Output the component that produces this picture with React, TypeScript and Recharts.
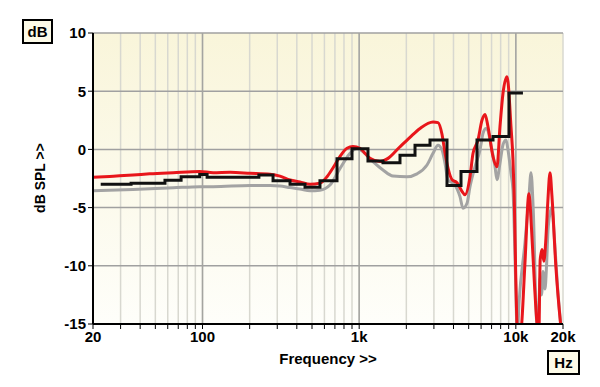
import { LineChart, Line, XAxis, YAxis, CartesianGrid, ReferenceLine } from 'recharts';

// frequency grid (Hz) and level ticks (dB)
const freqTicks = [
  20, 30, 40, 50, 60, 70, 80, 90,
  100, 200, 300, 400, 500, 600, 700, 800, 900,
  1000, 2000, 3000, 4000, 5000, 6000, 7000, 8000, 9000,
  10000, 20000,
];
const majorFreqs = [100, 1000, 10000];
const labelFreqs = [20, 100, 1000, 10000, 20000];
const dbTicks = [-15, -10, -5, 0, 5, 10];

// [Hz, dB]
const redCurve = [
  [20, -2.4], [27, -2.3], [36, -2.2], [46, -2.1], [65, -2.0], [96, -1.9], [117, -2.0],
  [150, -1.97], [201, -2.05], [270, -2.14], [312, -2.3], [362, -2.63], [419, -2.8],
  [486, -3.0], [562, -2.9], [623, -2.35], [680, -1.6], [755, -0.6], [836, 0.1], [913, 0.25],
  [1012, 0.1], [1100, -0.4], [1172, -0.77], [1358, -1.05], [1528, -0.77], [1822, 0.23],
  [2110, 1.04], [2446, 1.8], [2960, 2.35], [3186, 2.3], [3378, 1.3], [3532, -0.3],
  [3690, -1.6], [3912, -2.6], [4212, -2.86], [4532, -3.6], [4736, -3.9], [5098, -2.35],
  [5328, -0.36], [5734, 0.8], [6080, 2.5], [6356, 3.0], [6642, 1.95], [7150, -0.63],
  [7580, -1.5], [7920, 1.95], [8280, 4.82], [8780, 6.25], [8912, 5.8], [9312, 1.95],
  [9590, -0.9], [9732, -3.5], [10170, -15], [10500, -17], [10900, -15], [11440, -9.7],
  [12130, -3.8], [12600, -6.9], [13200, -12], [13650, -15], [14000, -16.5], [14300, -9.5],
  [14700, -8.6], [15100, -9.6], [15500, -8.0], [16000, -4.5], [16520, -2.0], [17000, -4.0],
  [18000, -10], [19300, -15], [20000, -17],
];

const grayCurve = [
  [20, -3.55], [36, -3.45], [65, -3.3], [96, -3.2], [117, -3.2], [201, -3.1], [270, -3.1],
  [312, -3.14], [362, -3.28], [419, -3.4], [486, -3.55], [562, -3.5], [651, -3.06],
  [755, -1.63], [874, -0.34], [969, 0.1], [1058, -0.2], [1225, -1.05], [1419, -1.77],
  [1644, -2.29], [2019, -2.35], [2339, -2.1], [2710, -1.34], [2960, -0.34], [3186, 0.35],
  [3378, -0.05], [3532, -1.2], [3690, -2.63], [3912, -2.85], [4090, -3.06], [4400, -4.06],
  [4600, -5.06], [4878, -4.63], [5098, -3.2], [5488, -1.48], [5906, -0.05], [6172, 1.38],
  [6450, 1.8], [6642, 1.6], [6840, 0.8], [7360, -1.48], [7580, -2.6], [7920, -1.2],
  [8280, 0.4], [8654, 0.8], [8912, -0.05], [9312, -2.05], [9590, -3.5], [10000, -12],
  [10200, -16], [10500, -13], [11440, -8], [12130, -4], [12500, -2.0], [12900, -5],
  [13650, -15], [14000, -14], [14260, -11], [14600, -12.5], [14900, -10.5], [15350, -12],
  [15700, -10], [16040, -7], [16520, -5.5], [17010, -5], [17500, -7], [18500, -12],
  [19500, -15.5], [20000, -17],
];

// step line: band start frequency, level
const blackSteps = [
  [22.4, -3.0], [35, -2.9], [57.6, -2.65], [73, -2.35], [96, -2.15], [107, -2.4],
  [229, -2.2], [282, -2.7], [362, -3.0], [451, -3.25], [562, -2.7], [722, -0.8],
  [900, 0.05], [1138, -1.0], [1419, -1.15], [1822, -0.5], [2272, 0.35], [2832, 0.8],
  [3636, -3.1], [4467, -1.9], [5650, 0.8], [7150, 1.1], [9040, 4.85], [11100, 4.85],
];

const toRows = (pts: number[][]) => pts.map(([f, v]) => ({ f, v }));

const fmtFreq = (f: number) => {
  if (!labelFreqs.includes(f)) return '';
  return f >= 1000 ? `${f / 1000}k` : `${f}`;
};

const font = 'Arial, "Liberation Sans", sans-serif';
const tickStyle = { fill: '#000', fontSize: 15, fontWeight: 'bold', fontFamily: font };

const boxStyle: React.CSSProperties = {
  position: 'absolute',
  border: '2px solid #000',
  background: '#fdfbe8',
  fontWeight: 'bold',
  fontSize: 15,
  textAlign: 'center',
  boxSizing: 'border-box',
};

export default function App() {
  return (
    <div style={{ position: 'fixed', left: 0, top: 0, width: 600, height: 387, background: '#fff', fontFamily: font }}>
      <LineChart width={600} height={387} margin={{ top: 33, right: 37, left: 0, bottom: 0 }}>
        <defs>
          <linearGradient id="plotBg" x1="0" y1="0" x2="0" y2="1">
            <stop offset="0%" stopColor="#f9f5da" />
            <stop offset="100%" stopColor="#fefefa" />
          </linearGradient>
        </defs>
        <CartesianGrid fill="url(#plotBg)" fillOpacity={1} stroke="#d8d8d0" strokeWidth={1.5} horizontal={false} />
        <CartesianGrid stroke="#a0a0a0" strokeWidth={1.5} vertical={false} />
        {majorFreqs.map((f) => (
          <ReferenceLine key={f} x={f} stroke="#a4a4a0" strokeWidth={1.5} />
        ))}
        <XAxis
          dataKey="f"
          type="number"
          scale="log"
          domain={[20, 20000]}
          ticks={freqTicks}
          interval={0}
          tickFormatter={fmtFreq}
          allowDataOverflow
          height={63}
          tickSize={5}
          tick={tickStyle}
          axisLine={{ stroke: '#000', strokeWidth: 2 }}
          tickLine={{ stroke: '#000' }}
        />
        <XAxis
          xAxisId="top"
          orientation="top"
          type="number"
          scale="log"
          domain={[20, 20000]}
          allowDataOverflow
          height={0}
          tick={false}
          tickLine={false}
          axisLine={{ stroke: '#000', strokeWidth: 2 }}
        />
        <YAxis
          type="number"
          domain={[-15, 10]}
          ticks={dbTicks}
          interval={0}
          allowDataOverflow
          width={93}
          tickSize={5}
          tick={tickStyle}
          axisLine={{ stroke: '#000', strokeWidth: 2 }}
          tickLine={{ stroke: '#000' }}
        />
        <YAxis
          yAxisId="right"
          orientation="right"
          type="number"
          domain={[-15, 10]}
          allowDataOverflow
          width={0}
          tick={false}
          tickLine={false}
          axisLine={{ stroke: '#000', strokeWidth: 2 }}
        />
        <Line data={toRows(grayCurve)} dataKey="v" type="monotone" stroke="#a3a3a3" strokeWidth={3} dot={false} isAnimationActive={false} />
        <Line data={toRows(redCurve)} dataKey="v" type="monotone" stroke="#e8161b" strokeWidth={3} dot={false} isAnimationActive={false} />
        <Line data={toRows(blackSteps)} dataKey="v" type="stepAfter" stroke="#111" strokeWidth={3} dot={false} isAnimationActive={false} />
      </LineChart>

      <div style={{ ...boxStyle, left: 22, top: 19, width: 31, height: 25, lineHeight: '21px' }}>dB</div>
      <div style={{ ...boxStyle, left: 547, top: 350, width: 33, height: 25, lineHeight: '21px' }}>Hz</div>
      <div
        style={{
          position: 'absolute',
          left: 40,
          top: 178,
          transform: 'translate(-50%, -50%) rotate(-90deg)',
          fontWeight: 'bold',
          fontSize: 14,
          whiteSpace: 'nowrap',
        }}
      >
        dB SPL &gt;&gt;
      </div>
      <div
        style={{
          position: 'absolute',
          left: 328,
          top: 358,
          transform: 'translate(-50%, -50%)',
          fontWeight: 'bold',
          fontSize: 15,
          whiteSpace: 'nowrap',
        }}
      >
        Frequency &gt;&gt;
      </div>
    </div>
  );
}
